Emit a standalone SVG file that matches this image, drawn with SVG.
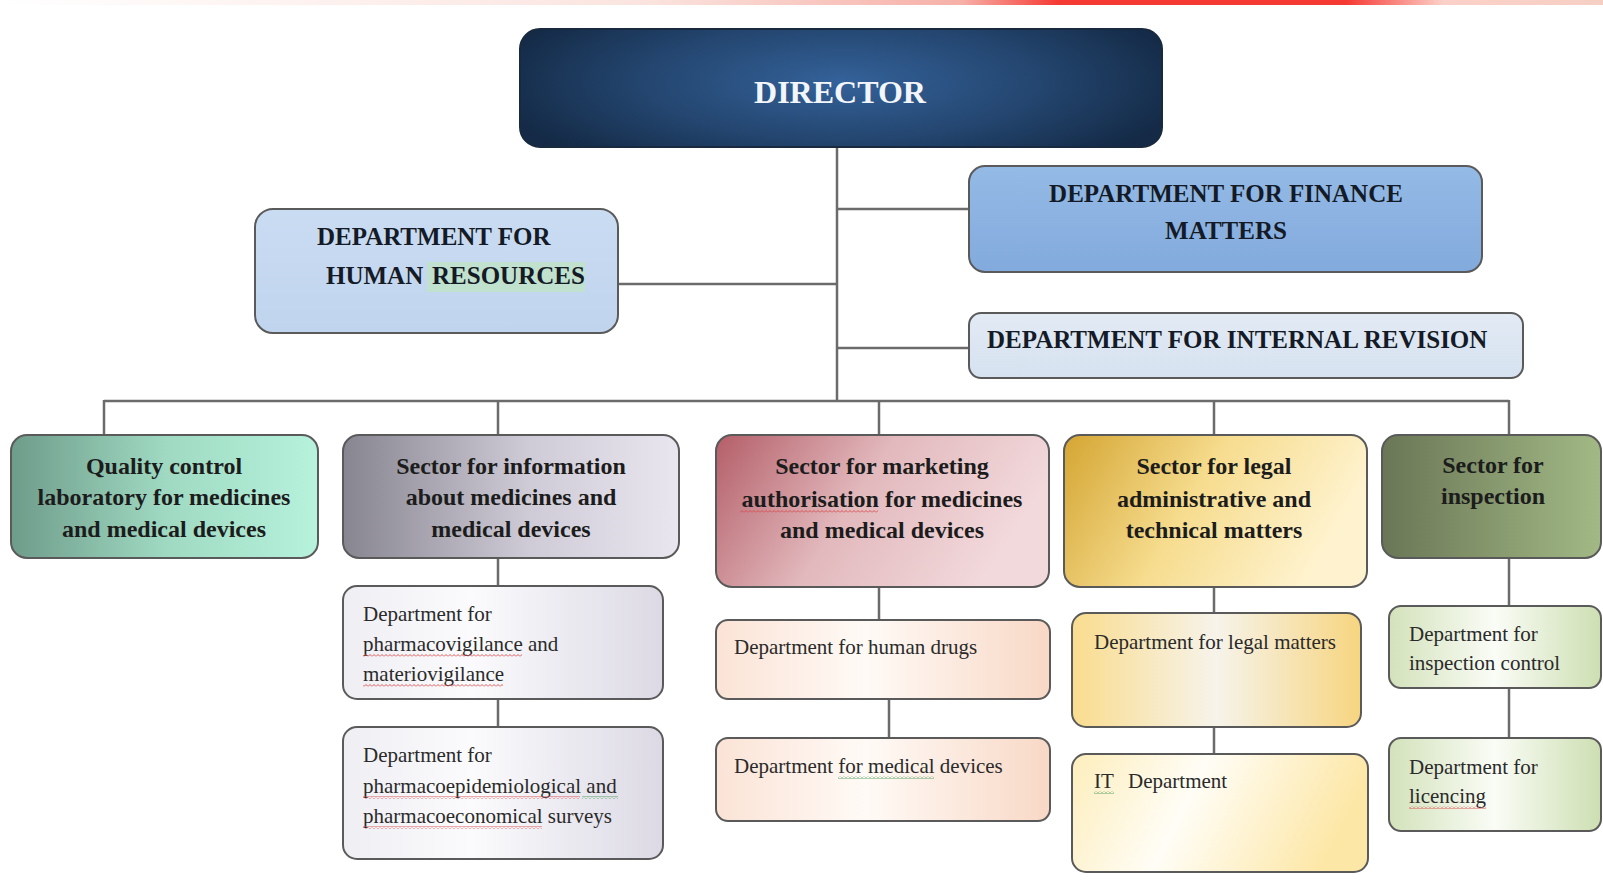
<svg xmlns="http://www.w3.org/2000/svg" width="1603" height="888" viewBox="0 0 1603 888">
<defs>
<style>
.box{stroke:#5a5a5a;stroke-width:2}
.con{stroke:#6b6b6b;stroke-width:2.5;fill:none}
.h{font-family:"Liberation Serif","Times New Roman",serif;font-weight:bold;font-size:25px;fill:#141a26}
.dir{font-family:"Liberation Serif","Times New Roman",serif;font-weight:bold;font-size:32px;fill:#f2f5fa}
.s{font-family:"Liberation Serif","Times New Roman",serif;font-weight:bold;font-size:24px;fill:#1c1c1c;text-anchor:middle}
.d{font-family:"Liberation Serif","Times New Roman",serif;font-size:21px;fill:#2a2a2a}
.red{fill:url(#wavyR)}
.grn{fill:url(#wavyG)}
</style>
<pattern id="wavyR" width="4" height="3" patternUnits="userSpaceOnUse"><path d="M0 2.5 L2 0.5 L4 2.5" stroke="#d84a4a" stroke-width="0.9" fill="none"/></pattern>
<pattern id="wavyG" width="4" height="3" patternUnits="userSpaceOnUse"><path d="M0 2.5 L2 0.5 L4 2.5" stroke="#4a9a5a" stroke-width="0.9" fill="none"/></pattern>
<linearGradient id="topStrip" x1="0" y1="0" x2="1" y2="0">
<stop offset="0" stop-color="#ffffff"/>
<stop offset="0.4" stop-color="#fbe4df"/>
<stop offset="0.6" stop-color="#f6b0a8"/>
<stop offset="0.66" stop-color="#f53a34"/>
<stop offset="0.84" stop-color="#f53a34"/>
<stop offset="0.9" stop-color="#fbd0c8"/>
<stop offset="1" stop-color="#f6cfc4"/>
</linearGradient>
<radialGradient id="gDir" cx="0.5" cy="0.45" r="0.55" gradientTransform="translate(0.5 0.45) scale(1 1.6) translate(-0.5 -0.45)">
<stop offset="0" stop-color="#34629a"/>
<stop offset="0.55" stop-color="#244670"/>
<stop offset="1" stop-color="#142a46"/>
</radialGradient>
<linearGradient id="gFin" x1="0" y1="0" x2="0" y2="1"><stop offset="0" stop-color="#94bae6"/><stop offset="1" stop-color="#82aadc"/></linearGradient>
<linearGradient id="gHR" x1="0" y1="0" x2="0" y2="1"><stop offset="0" stop-color="#cadcf2"/><stop offset="1" stop-color="#c0d4ee"/></linearGradient>
<linearGradient id="gInt" x1="0" y1="0" x2="0" y2="1"><stop offset="0" stop-color="#e2eaf4"/><stop offset="1" stop-color="#d6e2f0"/></linearGradient>
<linearGradient id="gQ" x1="0" y1="0" x2="1" y2="0"><stop offset="0" stop-color="#6e9c8a"/><stop offset="0.5" stop-color="#9fd9c2"/><stop offset="1" stop-color="#b6f2dc"/></linearGradient>
<linearGradient id="gI" x1="0" y1="0" x2="1" y2="0"><stop offset="0" stop-color="#878590"/><stop offset="0.55" stop-color="#cfcbd6"/><stop offset="1" stop-color="#e9e6f0"/></linearGradient>
<linearGradient id="gM" x1="0" y1="0" x2="1" y2="0.3"><stop offset="0" stop-color="#b45e68"/><stop offset="0.5" stop-color="#e2b9bd"/><stop offset="1" stop-color="#f2d9dc"/></linearGradient>
<linearGradient id="gL" x1="0" y1="0" x2="1" y2="0.3"><stop offset="0" stop-color="#d4a532"/><stop offset="0.5" stop-color="#f6dc8e"/><stop offset="1" stop-color="#fff3cf"/></linearGradient>
<linearGradient id="gS" x1="0" y1="0" x2="1" y2="0"><stop offset="0" stop-color="#6a7656"/><stop offset="1" stop-color="#a2b985"/></linearGradient>
<linearGradient id="gIs" x1="0" y1="0" x2="1" y2="0"><stop offset="0" stop-color="#efeef3"/><stop offset="0.4" stop-color="#fbfbfd"/><stop offset="1" stop-color="#dcd9e4"/></linearGradient>
<linearGradient id="gMs" x1="0" y1="0" x2="1" y2="0"><stop offset="0" stop-color="#fbe3d6"/><stop offset="0.45" stop-color="#fffaf6"/><stop offset="1" stop-color="#f8d8c6"/></linearGradient>
<linearGradient id="gLs" x1="0" y1="0" x2="1" y2="0"><stop offset="0" stop-color="#f9dc8e"/><stop offset="0.5" stop-color="#f6f3ea"/><stop offset="1" stop-color="#f7d580"/></linearGradient>
<linearGradient id="gLs2" x1="0" y1="0" x2="1" y2="0.2"><stop offset="0" stop-color="#fdeebc"/><stop offset="0.45" stop-color="#fffdf6"/><stop offset="1" stop-color="#fde7a6"/></linearGradient>
<linearGradient id="gSs" x1="0" y1="0" x2="1" y2="0"><stop offset="0" stop-color="#d3e2bb"/><stop offset="0.5" stop-color="#fafcf6"/><stop offset="1" stop-color="#cddfb2"/></linearGradient>
</defs>
<rect x="0" y="0" width="1603" height="888" fill="#ffffff"/>
<rect x="0" y="0" width="1603" height="5" fill="url(#topStrip)"/>

<g id="connectors">
<line class="con" x1="837" y1="147" x2="837" y2="401"/>
<line class="con" x1="837" y1="209" x2="969" y2="209"/>
<line class="con" x1="618" y1="284" x2="837" y2="284"/>
<line class="con" x1="837" y1="348" x2="969" y2="348"/>
<line class="con" x1="104" y1="401" x2="1509" y2="401"/>
<line class="con" x1="104" y1="400" x2="104" y2="435"/>
<line class="con" x1="498" y1="400" x2="498" y2="435"/>
<line class="con" x1="879" y1="400" x2="879" y2="435"/>
<line class="con" x1="1214" y1="400" x2="1214" y2="435"/>
<line class="con" x1="1509" y1="400" x2="1509" y2="435"/>
<line class="con" x1="498" y1="558" x2="498" y2="586"/>
<line class="con" x1="498" y1="699" x2="498" y2="727"/>
<line class="con" x1="879" y1="587" x2="879" y2="620"/>
<line class="con" x1="889" y1="699" x2="889" y2="738"/>
<line class="con" x1="1214" y1="587" x2="1214" y2="613"/>
<line class="con" x1="1214" y1="727" x2="1214" y2="754"/>
<line class="con" x1="1509" y1="558" x2="1509" y2="606"/>
<line class="con" x1="1509" y1="688" x2="1509" y2="738"/>
</g>

<g id="director">
<rect x="520" y="29" width="642" height="118" rx="20" fill="url(#gDir)" stroke="#1a2a3e" stroke-width="2"/>
<text class="dir" x="840" y="103" text-anchor="middle">DIRECTOR</text>
</g>

<g id="finance">
<rect class="box" x="969" y="166" width="513" height="106" rx="16" fill="url(#gFin)"/>
<text class="h" x="1226" y="202" text-anchor="middle">DEPARTMENT FOR FINANCE</text>
<text class="h" x="1226" y="239" text-anchor="middle">MATTERS</text>
</g>

<g id="hr">
<rect class="box" x="255" y="209" width="363" height="124" rx="18" fill="url(#gHR)"/>
<rect x="427" y="262" width="158" height="30" fill="#bfe3c6" opacity="0.8"/>
<text class="h" x="317" y="245">DEPARTMENT FOR</text>
<text class="h" x="326" y="284">HUMAN</text>
<text class="h" x="432" y="284">RESOURCES</text>
</g>

<g id="internal-revision">
<rect class="box" x="969" y="313" width="554" height="65" rx="12" fill="url(#gInt)"/>
<text class="h" x="987" y="348">DEPARTMENT FOR INTERNAL REVISION</text>
</g>

<g id="quality">
<rect class="box" x="11" y="435" width="307" height="123" rx="16" fill="url(#gQ)"/>
<text class="s" x="164" y="474">Quality control</text>
<text class="s" x="164" y="505">laboratory for medicines</text>
<text class="s" x="164" y="537">and medical devices</text>
</g>

<g id="information">
<rect class="box" x="343" y="435" width="336" height="123" rx="16" fill="url(#gI)"/>
<text class="s" x="511" y="474">Sector for information</text>
<text class="s" x="511" y="505">about medicines and</text>
<text class="s" x="511" y="537">medical devices</text>
</g>

<g id="marketing">
<rect class="box" x="716" y="435" width="333" height="152" rx="16" fill="url(#gM)"/>
<text class="s" x="882" y="474">Sector for marketing</text>
<text class="s" x="882" y="507">authorisation for medicines</text>
<text class="s" x="882" y="538">and medical devices</text>
<rect class="red" x="740" y="510" width="138" height="3"/>
</g>

<g id="legal">
<rect class="box" x="1064" y="435" width="303" height="152" rx="16" fill="url(#gL)"/>
<text class="s" x="1214" y="474">Sector for legal</text>
<text class="s" x="1214" y="507">administrative and</text>
<text class="s" x="1214" y="538">technical matters</text>
</g>

<g id="inspection">
<rect class="box" x="1382" y="435" width="219" height="123" rx="16" fill="url(#gS)"/>
<text class="s" x="1493" y="473">Sector for</text>
<text class="s" x="1493" y="504">inspection</text>
</g>

<g id="pharmacovigilance">
<rect class="box" x="343" y="586" width="320" height="113" rx="14" fill="url(#gIs)"/>
<text class="d" x="363" y="621">Department for</text>
<text class="d" x="363" y="651">pharmacovigilance and</text>
<text class="d" x="363" y="681">materiovigilance</text>
<rect class="red" x="363" y="654" width="159" height="3"/>
<rect class="red" x="363" y="684" width="140" height="3"/>
</g>

<g id="pharmacoepidemiological">
<rect class="box" x="343" y="727" width="320" height="132" rx="14" fill="url(#gIs)"/>
<text class="d" x="363" y="762">Department for</text>
<text class="d" x="363" y="793">pharmacoepidemiological and</text>
<text class="d" x="363" y="823">pharmacoeconomical surveys</text>
<rect class="red" x="363" y="796" width="217" height="3"/>
<rect class="grn" x="582" y="796" width="36" height="3"/>
<rect class="red" x="363" y="826" width="179" height="3"/>
</g>

<g id="human-drugs">
<rect class="box" x="716" y="620" width="334" height="79" rx="12" fill="url(#gMs)"/>
<text class="d" x="734" y="654">Department for human drugs</text>
</g>

<g id="medical-devices">
<rect class="box" x="716" y="738" width="334" height="83" rx="12" fill="url(#gMs)"/>
<text class="d" x="734" y="773">Department for medical devices</text>
<rect class="grn" x="838" y="776" width="96" height="3"/>
</g>

<g id="legal-matters">
<rect class="box" x="1072" y="613" width="289" height="114" rx="14" fill="url(#gLs)"/>
<text class="d" x="1094" y="649">Department for legal matters</text>
</g>

<g id="it">
<rect class="box" x="1072" y="754" width="296" height="118" rx="14" fill="url(#gLs2)"/>
<text class="d" x="1094" y="788">IT</text>
<text class="d" x="1128" y="788">Department</text>
<rect class="grn" x="1094" y="791" width="20" height="3"/>
</g>

<g id="inspection-control">
<rect class="box" x="1389" y="606" width="212" height="82" rx="12" fill="url(#gSs)"/>
<text class="d" x="1409" y="641">Department for</text>
<text class="d" x="1409" y="670">inspection control</text>
</g>

<g id="licencing">
<rect class="box" x="1389" y="738" width="212" height="93" rx="12" fill="url(#gSs)"/>
<text class="d" x="1409" y="774">Department for</text>
<text class="d" x="1409" y="803">licencing</text>
<rect class="red" x="1409" y="806" width="77" height="3"/>
</g>
</svg>
